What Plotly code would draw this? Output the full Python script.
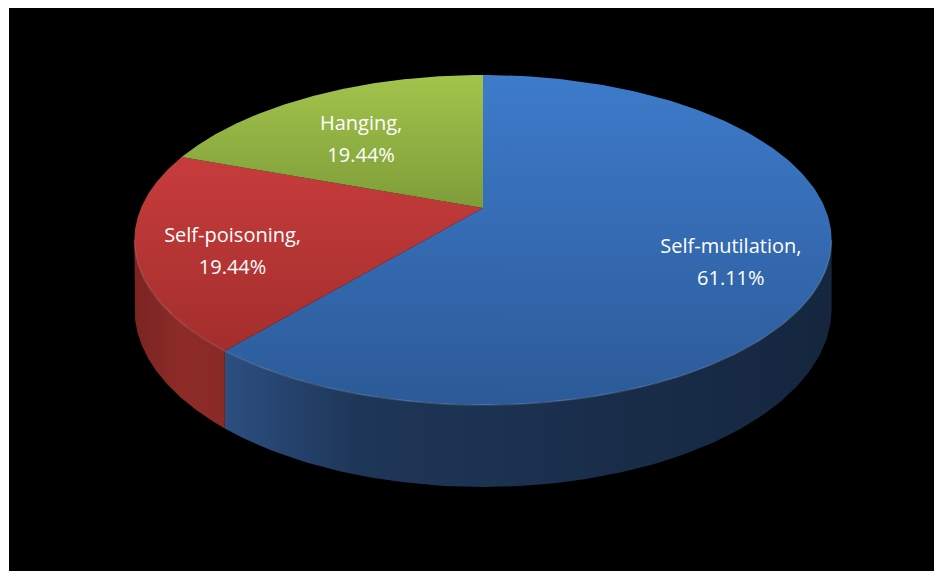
import numpy as np
import plotly.graph_objects as go

# ---- data ----
categories = ["Self-mutilation", "Self-poisoning", "Hanging"]
values = [22, 7, 7]
top_colors = [("#2C5A98", "#3D7BCB"), ("#A32E2D", "#C73C3C"), ("#7E9D3A", "#A2C44B")]
side_colors = [[[0, "#2C4E80"], [0.22, "#1E3658"], [1, "#15263E"]],
               [[0, "#7A2422"], [0.5, "#8C2B28"], [1, "#8A2A27"]]]

# ---- pseudo-3D projection parameters ----
CX, CY = 483.0, 208.0      # pie centre on screen
R = 342.0                  # horizontal radius
RY = 158.8                 # vertical radius (tilt)
P = 0.194                  # perspective strength
DEPTH = 66.0               # slab thickness


def proj(theta_deg, drop=0.0):
    t = np.radians(theta_deg)
    u, v = np.sin(t), np.cos(t)
    w = 1 + P * v
    return CX + R * u / w, CY - RY * v / w + drop / w


total = float(sum(values))
fracs = [v / total for v in values]
starts = np.concatenate([[0.0], np.cumsum(fracs)[:-1]]) * 360
ends = np.cumsum(fracs) * 360

sil_r = np.degrees(np.arccos(-P))      # right silhouette angle
sil_l = 360 - sil_r                      # left silhouette angle

fig = go.Figure()

# side walls (front only)
for i, (a0, a1) in enumerate(zip(starts, ends)):
    a, b = max(a0, sil_r), min(a1, sil_l)
    if b <= a:
        continue
    th = np.linspace(a, b, 120)
    xt, yt = proj(th)
    xb, yb = proj(th[::-1], DEPTH)
    fig.add_trace(go.Scatter(
        x=np.concatenate([xt, xb, xt[:1]]), y=np.concatenate([yt, yb, yt[:1]]),
        mode="lines", line=dict(width=0), fill="toself",
        fillgradient=dict(type="horizontal", colorscale=side_colors[i]),
        hoverinfo="skip", showlegend=False))

# top faces
for i, (a0, a1) in enumerate(zip(starts, ends)):
    th = np.linspace(a0, a1, 200)
    xr, yr = proj(th)
    c1, c2 = top_colors[i]
    fig.add_trace(go.Scatter(
        x=np.concatenate([[CX], xr, [CX]]), y=np.concatenate([[CY], yr, [CY]]),
        mode="lines", line=dict(width=0), fill="toself",
        fillgradient=dict(type="vertical", colorscale=[[0, c1], [1, c2]]),
        hoverinfo="skip", showlegend=False))

# rim highlight on the front edge
for i, (a0, a1) in enumerate(zip(starts, ends)):
    a, b = max(a0, sil_r), min(a1, sil_l)
    if b <= a:
        continue
    th = np.linspace(a, b, 120)
    xr, yr = proj(th)
    fig.add_trace(go.Scatter(x=xr, y=yr, mode="lines",
                             line=dict(width=1.5, color="rgba(255,255,255,0.15)"),
                             hoverinfo="skip", showlegend=False))

# labels
mids = (starts + ends) / 2
lx, ly, names, pcts = [], [], [], []
for i, m in enumerate(mids):
    t = np.radians(m)
    u, v = np.sin(t), np.cos(t)
    w = 1 + P * v
    lx.append(CX + 0.72 * R * u / w)
    ly.append(CY - 0.72 * RY * v / w + 14)
    names.append(categories[i] + ",")
    pcts.append(f"{fracs[i]*100:.2f}%")

font = dict(family="Open Sans, Noto Sans, sans-serif", size=20, color="white")
fig.add_trace(go.Scatter(x=lx, y=[y - 16 for y in ly], mode="text", text=names,
                         textfont=font, hoverinfo="skip", showlegend=False))
fig.add_trace(go.Scatter(x=lx, y=[y + 16 for y in ly], mode="text", text=pcts,
                         textfont=font, hoverinfo="skip", showlegend=False))

# the page body adds an 8 px offset; axis ranges are in page pixels
fig.update_layout(
    width=934, height=563,
    margin=dict(l=1, r=2, t=0, b=0),
    paper_bgcolor="white", plot_bgcolor="black",
    xaxis=dict(range=[9, 940], visible=False, fixedrange=True),
    yaxis=dict(range=[571, 8], visible=False, fixedrange=True),
)
fig.write_html("out.html")
